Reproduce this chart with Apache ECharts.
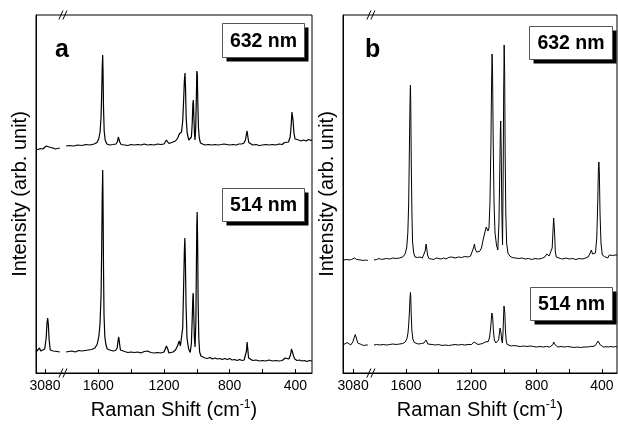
<!DOCTYPE html>
<html>
<head>
<meta charset="utf-8">
<script src="https://cdn.jsdelivr.net/npm/echarts@6/dist/echarts.min.js"></script>
<style>
  html, body { margin: 0; padding: 0; background: #fff; }
  #main { width: 618px; height: 428px; }
</style>
</head>
<body>
<div id="main"></div>
<script>
// spectra: [Raman shift (cm-1), intensity (arb. unit, offset included)]
var a632Hi = [[3135,224],[3122,223.5],[3108,224.5],[3094,224],[3082,225.5],[3072,227],[3064,228],[3056,226],[3046,224.5],[3032,225],[3018,224],[3004,224.5],[2990,225]];
var a632 = [[1796,227],[1775,227.5],[1750,227],[1725,228],[1700,227.5],[1675,228.5],[1650,228],[1625,229],[1608,230.5],[1597,234],[1589,241],[1583,256],[1579,280],[1576,305],[1573,318],[1571,302],[1568,265],[1564,242],[1558,233],[1548,229],[1530,228],[1510,228.5],[1492,229],[1483,231.5],[1478,236],[1474,235.5],[1469,231],[1461,228.5],[1440,228],[1420,227.5],[1400,228.5],[1380,228],[1360,228.5],[1340,228],[1320,229],[1300,228],[1280,228.5],[1260,228],[1240,229],[1220,228.5],[1200,229],[1191,230],[1185,233],[1181,234],[1177,231],[1170,229.5],[1160,230.5],[1145,231],[1130,232],[1116,235],[1107,239],[1100,237.5],[1093,241],[1086,252],[1080,274],[1076,292],[1072,300],[1069,286],[1065,256],[1059,240],[1049,233],[1040,231],[1033,236],[1028,250],[1024,270],[1021,273],[1018,256],[1014,238],[1011,233],[1007,245],[1003,275],[1000,302],[997,299],[994,270],[990,245],[985,235],[978,230],[965,229],[950,228],[930,228.5],[910,228],[890,228.5],[870,228],[850,228.5],[835,229],[826,230],[816,228.5],[800,228],[780,228.5],[760,228],[745,229],[736,231],[727,229],[713,230],[704,233],[698,239],[694,242],[690,237],[684,230.5],[675,229],[660,228],[640,228.5],[620,227.5],[600,228],[580,228.5],[560,228],[540,228.5],[520,228],[500,229],[480,228.5],[466,230.5],[456,229.5],[442,231],[432,236],[426,247],[421,261],[418,262],[414,252],[409,240],[402,234],[393,232],[380,233],[365,232],[350,233],[335,232],[320,233.5],[305,232.5],[299,233]];

var a514Hi = [[3135,21],[3124,22],[3114,25],[3106,22],[3094,21.5],[3082,24],[3073,35],[3068,50],[3064,55],[3060,49],[3055,33],[3048,23],[3040,21],[3030,22],[3018,20.5],[3006,21.5],[2996,21],[2990,21]];
var a514 = [[1796,21],[1780,21.5],[1760,22],[1740,21],[1720,22.5],[1700,22],[1680,22.5],[1660,23],[1640,23.5],[1620,25],[1606,29],[1596,37],[1589,50],[1583,78],[1579,125],[1576,175],[1573,203],[1571,172],[1568,105],[1565,58],[1560,36],[1553,28],[1545,24],[1530,23],[1510,22],[1495,22.5],[1485,25],[1479,33],[1475,36],[1471,30],[1465,23],[1455,21],[1440,21.5],[1420,20.5],[1400,21],[1380,20.5],[1360,21],[1340,20],[1320,21.5],[1300,22],[1280,20.5],[1260,20],[1240,20.5],[1220,20],[1200,21],[1190,23],[1185,27],[1181,29],[1177,24],[1170,20],[1160,19.5],[1145,21],[1130,23],[1118,27],[1107,32],[1100,27],[1093,28],[1086,45],[1080,90],[1076,122],[1073,135],[1070,116],[1066,70],[1060,35],[1050,24],[1040,20.5],[1033,30],[1028,55],[1024,77],[1022,80],[1019,60],[1015,35],[1011,26],[1006,50],[1003,100],[1000,150],[998,161],[995,130],[992,70],[988,35],[983,21],[975,17],[965,15.5],[950,15],[935,14.5],[920,15.5],[905,14],[890,15],[875,14],[860,14.5],[845,13.5],[830,14.5],[815,13.5],[800,14.5],[785,13],[770,13.5],[755,12.5],[740,13.5],[725,12.5],[712,13],[703,15],[698,22],[694,31],[690,24],[685,15],[675,13],[660,12.5],[640,13],[620,12],[600,12.5],[580,12],[560,13],[540,12],[520,12.5],[500,12],[480,12.5],[462,15],[452,13],[440,14],[430,18],[424,24],[420,26],[416,24],[411,17],[404,14],[390,12.5],[375,13],[360,12],[345,12.5],[330,11.5],[315,12.5],[299,12]];

var b632Hi = [[3142,113],[3130,112.5],[3118,113.5],[3104,113],[3090,113.5],[3080,114],[3072,115],[3066,115],[3058,113.5],[3046,112.5],[3032,113],[3018,112.5],[3004,113],[2990,112.5]];
var b632 = [[1796,113],[1780,113.5],[1765,114.5],[1750,113.5],[1735,114],[1720,114.5],[1700,114],[1680,115],[1660,114.5],[1640,115],[1620,116],[1606,119],[1596,125],[1589,140],[1584,168],[1580,215],[1577,255],[1574,284],[1573,288],[1571,268],[1568,212],[1564,160],[1560,131],[1553,120],[1545,116],[1530,115.5],[1515,116],[1500,115],[1490,117],[1483,122],[1477,129],[1473,127],[1468,118],[1460,114.5],[1445,114],[1430,113.5],[1415,115],[1400,114.5],[1385,114],[1370,115],[1355,114],[1340,115.5],[1320,116],[1300,115],[1280,116],[1260,115.5],[1240,116.5],[1220,116],[1205,117],[1195,119],[1187,125],[1181,129],[1176,124],[1168,121],[1159,120],[1150,121.5],[1145,122],[1138,125],[1128,133],[1118,140],[1109,146],[1104,147],[1098,142],[1092,145],[1086,170],[1080,230],[1076,290],[1073,319],[1070,300],[1066,230],[1061,170],[1055,140],[1046,128],[1038,123],[1031,150],[1026,200],[1022,245],[1020,252],[1017,220],[1013,160],[1009,128],[1005,200],[1002,280],[999,328],[996,300],[993,220],[989,160],[984,130],[976,120],[965,117],[950,115.5],[930,115],[910,114.5],[890,115],[870,114],[850,114.5],[830,113.5],[810,114.5],[790,114],[770,114.5],[750,116],[738,119],[731,121],[724,117],[714,118],[705,125],[700,142],[696,155],[693,156],[690,140],[686,122],[680,116],[670,114],[655,114.5],[640,114],[620,115],[600,114],[580,114.5],[560,113.5],[540,114.5],[520,114],[500,115],[485,116],[472,120],[465,123],[458,119],[450,117],[440,120],[432,135],[426,170],[422,203],[419,211],[416,200],[412,160],[406,130],[398,118],[385,116.5],[375,117],[365,115],[355,118],[345,116],[335,117.5],[320,118],[308,118]];

var b514Hi = [[3142,28],[3130,28.5],[3117,30.5],[3108,28.5],[3095,28],[3082,31],[3074,35],[3067,38.5],[3060,35],[3052,30],[3042,28],[3030,28.5],[3015,27.5],[3000,28],[2990,28]];
var b514 = [[1796,28],[1780,28.5],[1760,28],[1740,28.5],[1720,28],[1700,28.5],[1680,29],[1660,28.5],[1640,29],[1620,29.5],[1605,31],[1595,34],[1588,40],[1583,50],[1579,62],[1576,74],[1573,80.5],[1571,76],[1568,58],[1564,42],[1558,34],[1550,30.5],[1540,29.5],[1525,29],[1505,29.5],[1490,30],[1482,31.5],[1477,33],[1473,32],[1467,29],[1455,28],[1440,28.5],[1420,28],[1400,28.5],[1380,27.5],[1360,28],[1340,27.5],[1320,28],[1300,28.5],[1280,28],[1260,28.5],[1240,28],[1220,28.5],[1200,28.5],[1190,29.5],[1183,31],[1179,30.5],[1172,29],[1160,28.5],[1145,29],[1130,29.5],[1115,31],[1104,32],[1096,31.5],[1088,36],[1082,45],[1077,55],[1074,60],[1072,61],[1069,55],[1065,42],[1059,33],[1050,30],[1040,29],[1033,33],[1028,40],[1024,45],[1021,45.5],[1018,40],[1014,33],[1010,30],[1006,40],[1003,55],[1000,67],[998,69],[995,60],[991,42],[987,33],[981,28.5],[970,27.5],[955,27],[940,27.5],[920,27],[900,26.5],[880,27],[860,26.5],[840,27],[820,26.5],[800,26],[780,26.5],[760,26],[740,26.5],[720,26],[708,26.5],[700,28.5],[696,31],[693,31.5],[689,28.5],[683,26.5],[670,26],[650,26.5],[630,26],[610,26.5],[590,26],[570,25.5],[550,26],[530,25.5],[510,26],[490,26],[470,26.5],[455,26.5],[440,27.5],[430,29.5],[424,32],[419,33],[415,31.5],[410,28],[403,26.5],[390,26],[375,26.3],[360,26],[345,26.5],[330,26],[315,26.5],[308,26]];

var labelTicks = [3080, 1600, 1200, 800, 400];
var minorTicks = [1400, 1000, 600];

// broken axis: the 3080 region is drawn just left of the break
var SEG_OFFSET = 1156;
var BREAK_AT = 1812;
function axisVal(v) { return v > 2500 ? v - SEG_OFFSET : v; }
function toAxis(d) { return d.map(function (p) { return [axisVal(p[0]), p[1]]; }); }

var font = '"Liberation Sans", Arial, sans-serif';
var myChart = echarts.init(document.getElementById('main'));

function xAxisFor(i, min, max) {
  return {
    type: 'value', gridIndex: i, inverse: true, min: min, max: max,
    name: 'Raman Shift (cm{sup|-1})', nameLocation: 'middle', nameGap: 26,
    nameTextStyle: {
      color: '#000', fontFamily: font, fontSize: 20,
      rich: { sup: { color: '#000', fontFamily: font, fontSize: 12, padding: [0, 0, 10, 0] } }
    },
    axisLine: { lineStyle: { color: '#000', width: 1 } },
    axisTick: { inside: true, length: 4, lineStyle: { color: '#000' },
      customValues: labelTicks.concat(minorTicks).map(axisVal) },
    axisLabel: { color: '#000', fontFamily: font, fontSize: 14, margin: 6,
      customValues: labelTicks.map(axisVal),
      formatter: function (v) { return String(v > BREAK_AT ? v + SEG_OFFSET : v); } },
    splitLine: { show: false }
  };
}
function yAxisFor(i) {
  return {
    type: 'value', gridIndex: i, min: 0, max: 358,
    name: 'Intensity (arb. unit)', nameLocation: 'middle', nameRotate: 90, nameGap: 6,
    nameTextStyle: { color: '#000', fontFamily: font, fontSize: 20 },
    axisLine: { show: true, lineStyle: { color: '#000' } },
    axisTick: { show: false }, axisLabel: { show: false }, splitLine: { show: false }
  };
}
function spec(data, i, w) {
  return { type: 'line', xAxisIndex: i, yAxisIndex: i, data: toAxis(data),
    showSymbol: false, silent: true, lineStyle: { color: '#000', width: w } };
}
// label box with a hard black drop shadow
function box(text, l, t, w, h) {
  return { type: 'group', left: l, top: t, z: 100, children: [
    { type: 'rect', shape: { x: 4, y: 4, width: w, height: h }, style: { fill: '#000' } },
    { type: 'rect', shape: { x: 0, y: 0, width: w, height: h }, style: { fill: '#fff', stroke: '#555', lineWidth: 1 } },
    { type: 'text', x: w / 2, y: h / 2 + 1, style: { text: text, fill: '#000', font: 'bold 19.5px ' + font,
      textAlign: 'center', textVerticalAlign: 'middle' } }
  ] };
}

option = {
  animation: false,
  backgroundColor: '#fff',
  title: [
    { text: 'a', left: 55, top: 38, padding: 0, textStyle: { fontSize: 25, fontWeight: 'bold', fontFamily: font, color: '#000' } },
    { text: 'b', left: 365, top: 38, padding: 0, textStyle: { fontSize: 25, fontWeight: 'bold', fontFamily: font, color: '#000' } }
  ],
  grid: [
    { left: 36, top: 15, width: 276, height: 358, show: true, borderColor: '#000', borderWidth: 1 },
    { left: 343, top: 15, width: 274, height: 358, show: true, borderColor: '#000', borderWidth: 1 }
  ],
  xAxis: [xAxisFor(0, 299, 1979), xAxisFor(1, 308, 1986)],
  yAxis: [yAxisFor(0), yAxisFor(1)],
  series: [
    spec(a632Hi, 0, 1.2), spec(a632, 0, 1.2), spec(a514Hi, 0, 1.2), spec(a514, 0, 1.2),
    spec(b632Hi, 1, 1), spec(b632, 1, 1), spec(b514Hi, 1, 1), spec(b514, 1, 1)
  ]
};
myChart.setOption(option);

// "//" break marks on the top and bottom frame lines, plus the label boxes
var extras = [
  box('632 nm', 222, 23, 82, 34),
  box('514 nm', 222, 188, 82, 33),
  box('632 nm', 529, 26, 83, 33),
  box('514 nm', 530, 287, 82, 33)
];
[0, 1].forEach(function (i) {
  var x = myChart.convertToPixel({ xAxisIndex: i }, BREAK_AT);
  var yTop = myChart.convertToPixel({ yAxisIndex: i }, 358);
  var yBot = myChart.convertToPixel({ yAxisIndex: i }, 0);
  [yTop, yBot].forEach(function (y) {
    [-2.5, 1.5].forEach(function (dx) {
      extras.push({ type: 'line', z: 100,
        shape: { x1: x + dx - 2, y1: y + 4.5, x2: x + dx + 2, y2: y - 4.5 },
        style: { stroke: '#000', lineWidth: 1 } });
    });
  });
});
myChart.setOption({ graphic: extras });
</script>
</body>
</html>
